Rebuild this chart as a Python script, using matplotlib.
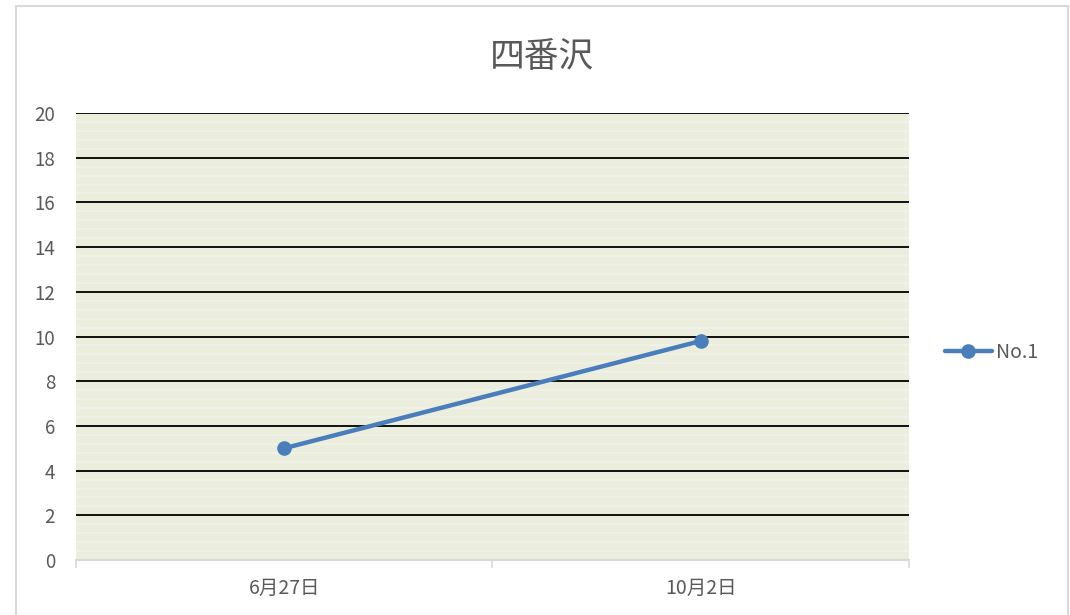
#!/usr/bin/env python3
"""Line chart: 四番沢 No.1 measurements."""

import matplotlib

matplotlib.use("Agg")
import matplotlib.pyplot as plt
import numpy as np
from matplotlib.patches import Rectangle

plt.rcParams["font.family"] = ["Noto Sans CJK JP", "DejaVu Sans"]

TITLE = "四番沢"
DATES = ["6月27日", "10月2日"]
SERIES_NAME = "No.1"
VALUES = [5.0, 9.8]

BLUE = "#4a7ebb"
TEXT = "#595959"
AXIS_GRAY = "#d9d9d9"

fig = plt.figure(figsize=(10.7, 6.15), dpi=100)
ax = fig.add_axes([0.0710, 0.0894, 0.7785, 0.7268])

# outer chart border
fig.patches.append(Rectangle((16 / 1070, -0.05), 1052 / 1070, 1.05 - 5.5 / 615,
                             transform=fig.transFigure, fill=False,
                             edgecolor=AXIS_GRAY, linewidth=1.5))

# plot-area fill with faint horizontal stripes
ax.set_facecolor("#ebeedd")
for y in np.arange(0.4, 20, 0.4):
    if abs(y / 2 - round(y / 2)) > 1e-6:
        ax.axhline(y, color="#f1f2ec", linewidth=1.1, zorder=0.5)

x = np.arange(len(DATES))
ax.plot(x, VALUES, color=BLUE, linewidth=3.2, marker="o", markersize=9.5,
        label=SERIES_NAME, zorder=3, solid_capstyle="round")

ax.set_xlim(-0.5, len(DATES) - 0.5)
ax.set_ylim(0, 20)
ax.set_yticks(np.arange(0, 21, 2))
ax.yaxis.grid(True, color="black", linewidth=1.3)
ax.set_axisbelow(True)

ax.set_xticks(x)
ax.set_xticklabels(DATES)
ax.set_xticks(np.arange(-0.5, len(DATES), 1.0), minor=True)
ax.tick_params(axis="x", which="major", length=0, pad=13, labelsize=14, labelcolor=TEXT)
ax.tick_params(axis="x", which="minor", length=5.5, width=1.2, color=AXIS_GRAY)
ax.tick_params(axis="y", length=0, pad=15, labelsize=13.5, labelcolor=TEXT)

for side in ("left", "top", "right"):
    ax.spines[side].set_visible(False)
ax.spines["bottom"].set_color(AXIS_GRAY)
ax.spines["bottom"].set_linewidth(1.5)
ax.spines["bottom"].set_zorder(2.5)

fig.text(542 / 1070, 1 - 57 / 615, TITLE, ha="center", va="center",
         fontsize=25, color=TEXT)

fig.legend(loc="center left", bbox_to_anchor=(945 / 1070, 1 - 352 / 615),
           frameon=False, fontsize=14, handlelength=2.4, handletextpad=0.2,
           borderpad=0, borderaxespad=0, labelcolor=TEXT)

fig.savefig("out.png", dpi=100)
